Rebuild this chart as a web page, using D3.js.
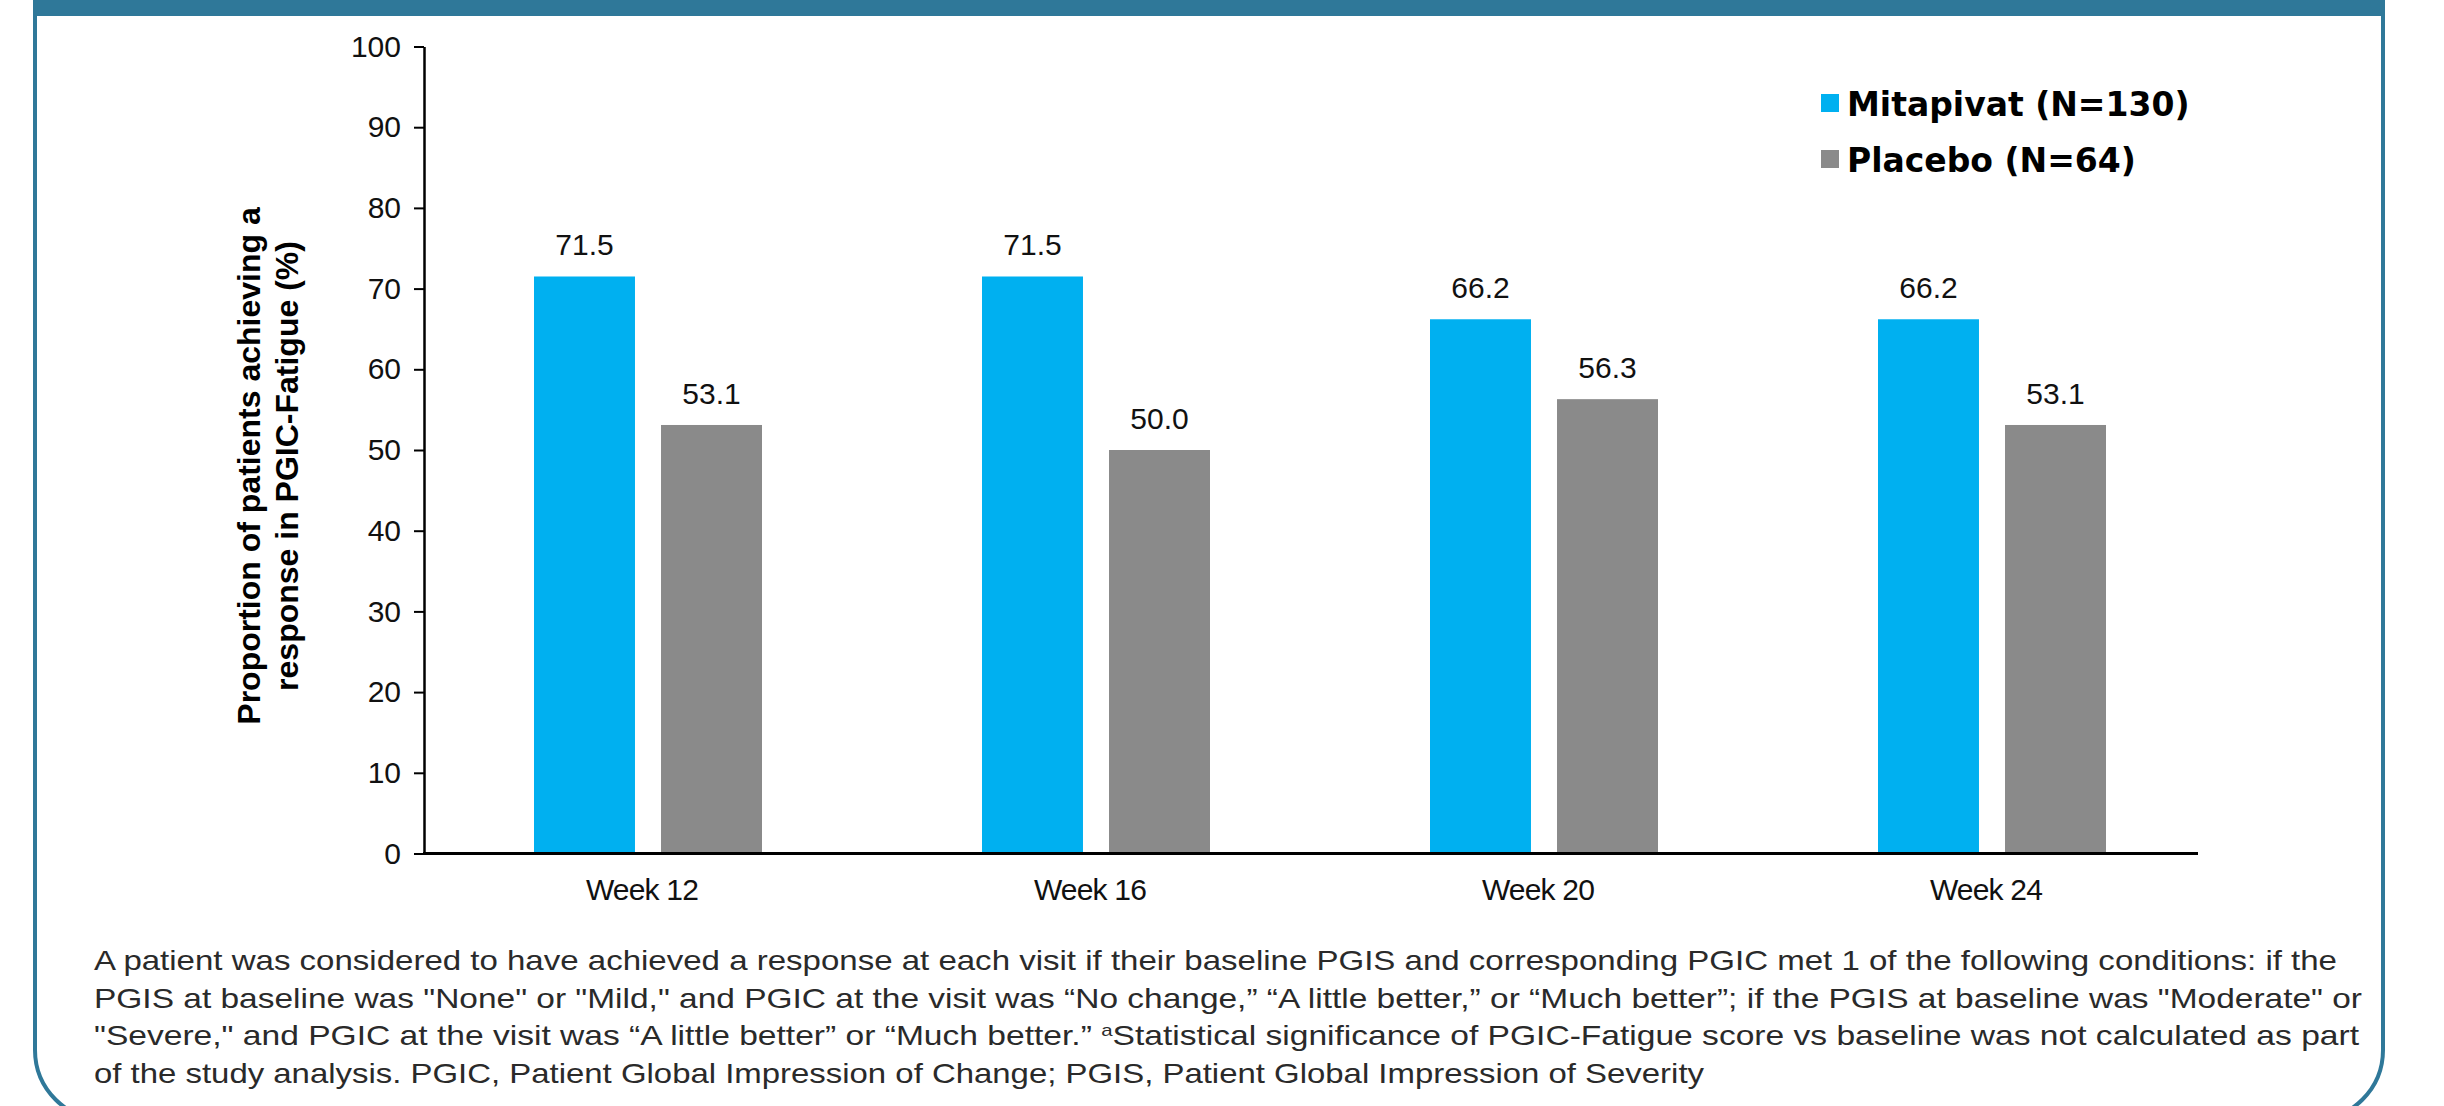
<!DOCTYPE html>
<html>
<head>
<meta charset="utf-8">
<script src="https://cdn.jsdelivr.net/npm/d3@7"></script>
<style>
  html, body { margin: 0; padding: 0; background: #ffffff; }
  svg { display: block; }
</style>
</head>
<body>
<div id="chart"></div>
<script>
// ---- data ----
const weeks = ["Week 12", "Week 16", "Week 20", "Week 24"];
const seriesNames = ["Mitapivat (N=130)", "Placebo (N=64)"];
const mitapivatValues = [71.5, 71.5, 66.2, 66.2];
const placeboValues = [53.1, 50.0, 56.3, 53.1];
const yTickValues = [0, 10, 20, 30, 40, 50, 60, 70, 80, 90, 100];
const yTitleLines = ["Proportion of patients achieving a", "response in PGIC-Fatigue (%)"];
const footnoteLines = [
  [{t: "A patient was considered to have achieved a response at each visit if their baseline PGIS and corresponding PGIC met 1 of the following conditions: if the"}],
  [{t: "PGIS at baseline was \"None\" or \"Mild,\" and PGIC at the visit was \u201CNo change,\u201D \u201CA little better,\u201D or \u201CMuch better\u201D; if the PGIS at baseline was \"Moderate\" or"}],
  [{t: "\"Severe,\" and PGIC at the visit was \u201CA little better\u201D or \u201CMuch better.\u201D "}, {t: "a", sup: true}, {t: "Statistical significance of PGIC-Fatigue score vs baseline was not calculated as part"}],
  [{t: "of the study analysis. PGIC, Patient Global Impression of Change; PGIS, Patient Global Impression of Severity"}]
];

// ---- styles ----
const W = 2444, H = 1106;
const frameColor = "#2F7899";
const colors = ["#00B0F0", "#8A8A8A"];
const sansFont = "'Liberation Sans', Arial, Helvetica, sans-serif";
const legendFont = "'DejaVu Sans', 'Liberation Sans', sans-serif";

const svg = d3.select("#chart").append("svg")
  .attr("width", W).attr("height", H)
  .attr("viewBox", `0 0 ${W} ${H}`);

svg.append("rect").attr("width", W).attr("height", H).attr("fill", "#fff");

// frame
svg.append("path")
  .attr("d", "M35,-60 L35,1050 A70,70 0 0 0 105,1120 L2313,1120 A70,70 0 0 0 2383,1050 L2383,-60")
  .attr("fill", "none").attr("stroke", frameColor).attr("stroke-width", 4);
svg.append("rect").attr("x", 33).attr("y", 0).attr("width", 2352).attr("height", 16).attr("fill", frameColor);

// scales
const y = d3.scaleLinear().domain([0, 100]).range([853.5, 46.5]);
const x0 = d3.scaleBand().domain(weeks).range([424, 2216]).paddingInner(0).paddingOuter(0);
const x1 = d3.scaleBand().domain(seriesNames).range([0, x0.bandwidth()]).paddingInner(0.205).paddingOuter(0.866);

const data = weeks.map((w, i) => ({
  week: w,
  values: [
    {series: seriesNames[0], value: mitapivatValues[i]},
    {series: seriesNames[1], value: placeboValues[i]}
  ]
}));

// y axis
const yAxis = svg.append("g")
  .attr("transform", "translate(424,0)")
  .call(d3.axisLeft(y).tickValues(yTickValues).tickSize(10).tickSizeOuter(0).tickPadding(13));
yAxis.select(".domain").attr("stroke", "#000").attr("stroke-width", 2.5);
yAxis.selectAll(".tick line").attr("stroke", "#000").attr("stroke-width", 2);
yAxis.selectAll(".tick text")
  .attr("font-family", sansFont).attr("font-size", 30).attr("fill", "#111");

// bars
const groups = svg.append("g").selectAll("g")
  .data(data).join("g")
  .attr("transform", d => `translate(${x0(d.week)},0)`);

groups.selectAll("rect")
  .data(d => d.values).join("rect")
  .attr("x", d => x1(d.series))
  .attr("width", x1.bandwidth())
  .attr("y", d => y(d.value))
  .attr("height", d => y(0) - y(d.value))
  .attr("fill", (d, i) => colors[i]);

groups.selectAll("text")
  .data(d => d.values).join("text")
  .attr("x", d => x1(d.series) + x1.bandwidth() / 2)
  .attr("y", d => y(d.value) - 21)
  .attr("text-anchor", "middle")
  .attr("font-family", sansFont).attr("font-size", 30).attr("fill", "#111")
  .text(d => d3.format(".1f")(d.value));

// x axis
const xAxis = svg.append("g")
  .attr("transform", `translate(0,${y(0)})`)
  .call(d3.axisBottom(x0).tickSize(0).tickPadding(25));
xAxis.select(".domain").remove();
xAxis.append("line")
  .attr("x1", 423).attr("x2", 2198).attr("y1", 0).attr("y2", 0)
  .attr("stroke", "#000").attr("stroke-width", 3);
xAxis.selectAll(".tick text")
  .attr("font-family", sansFont).attr("font-size", 30).attr("fill", "#111")
  .attr("letter-spacing", -0.8)
  .attr("transform", "translate(-6,0)");

// y axis title
const yt = svg.append("g").attr("transform", "translate(0,466)");
yTitleLines.forEach((line, i) => {
  yt.append("text")
    .attr("transform", `translate(${260 + i * 38},0) rotate(-90)`)
    .attr("text-anchor", "middle")
    .attr("font-family", sansFont).attr("font-weight", "bold").attr("font-size", 32)
    .attr("fill", "#000")
    .text(line);
});

// legend
const legend = svg.append("g").attr("transform", "translate(1821,94)");
seriesNames.forEach((name, i) => {
  const g = legend.append("g").attr("transform", `translate(0,${i * 56})`);
  g.append("rect").attr("width", 18).attr("height", 18).attr("fill", colors[i]);
  g.append("text").attr("x", 26).attr("y", 22)
    .attr("font-family", legendFont).attr("font-weight", "bold").attr("font-size", 33)
    .attr("fill", "#000")
    .text(name);
});

// footnote
const lineEnds = [2337, 2362, 2359, 1704];
const foot = svg.append("g");
footnoteLines.forEach((parts, i) => {
  const t = foot.append("text")
    .attr("x", 94).attr("y", 970 + i * 37.7)
    .attr("font-family", sansFont).attr("font-size", 28).attr("fill", "#2a2a2a");
  parts.forEach(p => {
    const ts = t.append("tspan").text(p.t);
    if (p.sup) ts.attr("font-size", 17).attr("baseline-shift", "super");
  });
  t.attr("textLength", lineEnds[i] - 94).attr("lengthAdjust", "spacingAndGlyphs");
});
</script>
</body>
</html>
